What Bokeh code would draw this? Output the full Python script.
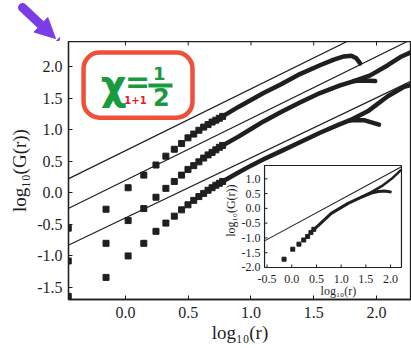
import math
from bokeh.plotting import figure
from bokeh.layouts import column
from bokeh.models import Range1d, FixedTicker, NumeralTickFormatter, Arrow, NormalHead
from bokeh.core.properties import value
from bokeh.embed import file_html
from bokeh.resources import INLINE

# ---------------- data ----------------
X_TICKS = [0.0, 0.5, 1.0, 1.5, 2.0]
Y_TICKS = [-1.5, -1.0, -0.5, 0.0, 0.5, 1.0, 1.5, 2.0]

# sparse (separate squares) part, common log10(r) positions
X_SPARSE = [-0.456, -0.155, 0.021, 0.146, 0.243, 0.322, 0.389, 0.447, 0.498,
            0.544, 0.585, 0.623, 0.658, 0.690, 0.720, 0.748, 0.774]
A_SPARSE = [-0.56, -0.26, 0.08, 0.28, 0.44, 0.58, 0.69, 0.78, 0.87,
            0.93, 0.99, 1.04, 1.08, 1.12, 1.15, 1.18, 1.21]
B_SPARSE = [-1.08, -0.80, -0.44, -0.25, -0.07, 0.07, 0.18, 0.28, 0.37,
            0.43, 0.49, 0.55, 0.60, 0.64, 0.68, 0.72, 0.75]
C_SPARSE = [-1.64, -1.34, -1.00, -0.80, -0.61, -0.48, -0.37, -0.27, -0.19,
            -0.12, -0.06, -0.01, 0.04, 0.08, 0.12, 0.15, 0.18]

# dense (merged squares) part
A_DENSE_X = [0.774, 0.90, 1.00, 1.10, 1.24, 1.39, 1.55, 1.66, 1.74, 1.80, 1.84, 1.87]
A_DENSE_Y = [1.21, 1.36, 1.47, 1.58, 1.72, 1.88, 2.02, 2.11, 2.16, 2.17, 2.13, 2.05]
B_DENSE_X = [0.774, 0.90, 1.00, 1.10, 1.24, 1.39, 1.55, 1.71, 1.82]
B_DENSE_Y = [0.75, 0.89, 1.01, 1.13, 1.28, 1.43, 1.58, 1.70, 1.77]
B_LOW_X = [1.82, 1.90, 1.99]
B_LOW_Y = [1.77, 1.78, 1.77]
B_UP_X = [1.82, 1.95, 2.09, 2.19, 2.30]
B_UP_Y = [1.77, 1.86, 2.02, 2.15, 2.25]
C_DENSE_X = [0.774, 0.90, 1.00, 1.10, 1.24, 1.39, 1.55, 1.70, 1.79]
C_DENSE_Y = [0.18, 0.32, 0.43, 0.53, 0.66, 0.80, 0.95, 1.08, 1.15]
C_LOW_X = [1.79, 1.90, 2.02]
C_LOW_Y = [1.15, 1.15, 1.08]
C_UP_X = [1.79, 1.93, 2.09, 2.22, 2.30]
C_UP_Y = [1.15, 1.29, 1.53, 1.68, 1.72]

# reference straight lines (slope ~1)
LINE_X = [-0.456, 2.30]
LINE_A_Y = [0.22, 2.92]
LINE_B_Y = [-0.25, 2.45]
LINE_C_Y = [-0.83, 1.79]

# inset
INSET_X_TICKS = [-0.5, 0.0, 0.5, 1.0, 1.5, 2.0]
INSET_Y_TICKS = [-2.0, -1.5, -1.0, -0.5, 0.0, 0.5, 1.0]
INSET_X_LABELS = ["-0.5", "0.0", "0.5", "1.0", "1.5", "2.0"]
INSET_Y_LABELS = ["-2.0", "-1.5", "-1.0", "-0.5", "0.0", "0.5", "1.0"]
IN_SPARSE_X = [-0.155, 0.021, 0.146, 0.243, 0.322, 0.389, 0.447]
IN_SPARSE_Y = [-1.72, -1.38, -1.21, -1.07, -0.95, -0.82, -0.71]
IN_DENSE_X = [0.447, 0.53, 0.80, 1.14, 1.41, 1.61, 1.75, 1.88, 2.02]
IN_DENSE_Y = [-0.71, -0.59, -0.17, 0.17, 0.38, 0.52, 0.57, 0.59, 0.55]
IN_UP_X = [1.41, 1.61, 1.82, 2.02, 2.22]
IN_UP_Y = [0.38, 0.55, 0.75, 1.00, 1.31]
IN_LINE_X = [-0.55, 2.22]
IN_LINE_Y = [-1.10, 1.41]

# ---------------- styling / layout ----------------
INK = "#1f1f1f"
SERIF = "Liberation Serif"
X0, X1 = -0.454, 2.279
Y0, Y1 = -1.69, 2.396
IX0, IX1 = -0.55, 2.22          # inset axis limits
IY0, IY1 = -2.0, 1.45
# inset box expressed in main-axis coordinates
BOX_L, BOX_R, BOX_B, BOX_T = 1.108, 2.199, -1.183, 0.432

RED = "#f0503a"
GREEN = "#1a9a3e"
PURPLE = "#7a3ce6"

# strip above the plot that carries the hand-drawn purple arrow
strip = figure(width=411, height=41, x_range=Range1d(0, 411), y_range=Range1d(0, 41),
               output_backend="svg", toolbar_location=None, min_border=0)
strip.frame_align = False
strip.axis.visible = False
strip.grid.visible = False
strip.outline_line_color = None
strip.background_fill_color = "white"
strip.border_fill_color = "white"
strip.add_layout(Arrow(end=NormalHead(size=20, fill_color=PURPLE, line_color=PURPLE),
                       x_start=22, y_start=34, x_end=55, y_end=3,
                       line_color=PURPLE, line_width=9, line_cap="round"))

p = figure(width=411, height=307, x_range=Range1d(X0, X1), y_range=Range1d(Y0, Y1),
           output_backend="svg", toolbar_location=None,
           min_border_left=68, min_border_right=0, min_border_top=0, min_border_bottom=49,
           x_axis_label="log₁₀(r)", y_axis_label="log₁₀(G(r))")
p.frame_align = False
p.grid.visible = False
p.background_fill_color = "white"
p.border_fill_color = "white"
p.outline_line_color = INK
p.outline_line_width = 1.3

for ax in (p.xaxis[0], p.yaxis[0]):
    ax.major_tick_in = 4
    ax.major_tick_out = 0
    ax.minor_tick_line_color = None
    ax.axis_line_color = INK
    ax.axis_line_width = 1.3
    ax.major_tick_line_color = INK
    ax.major_label_text_font = SERIF
    ax.major_label_text_font_size = "16px"
    ax.major_label_text_color = INK
    ax.axis_label_text_font = SERIF
    ax.axis_label_text_font_size = "19px"
    ax.axis_label_text_font_style = "normal"
    ax.axis_label_text_color = INK
    ax.formatter = NumeralTickFormatter(format="0.0")
p.xaxis[0].ticker = FixedTicker(ticks=X_TICKS)
p.yaxis[0].ticker = FixedTicker(ticks=Y_TICKS)
p.xaxis[0].major_label_standoff = 7
p.xaxis[0].axis_label_standoff = 1
p.yaxis[0].major_label_standoff = 6
p.yaxis[0].axis_label_standoff = 4

# ticks on the top frame edge
p.ray(x=X_TICKS, y=[Y1] * len(X_TICKS), length=4, angle=-math.pi / 2,
      length_units="screen", line_color=INK, line_width=1)

# reference lines
for ly in (LINE_A_Y, LINE_B_Y, LINE_C_Y):
    p.line(LINE_X, ly, line_color=INK, line_width=1.2)

# data
for ys in (A_SPARSE, B_SPARSE, C_SPARSE):
    p.scatter(X_SPARSE, ys, marker="square", size=6, fill_color=INK, line_color=INK)
for xs, ys in ((A_DENSE_X, A_DENSE_Y), (B_DENSE_X, B_DENSE_Y), (B_LOW_X, B_LOW_Y),
               (B_UP_X, B_UP_Y), (C_DENSE_X, C_DENSE_Y), (C_LOW_X, C_LOW_Y), (C_UP_X, C_UP_Y)):
    p.line(xs, ys, line_color=INK, line_width=4.5, line_join="round", line_cap="round")

# ---------------- inset ----------------
kx = (IX1 - IX0) / (BOX_R - BOX_L)
ky = (IY1 - IY0) / (BOX_T - BOX_B)
p.extra_x_ranges = {"ix": Range1d(IX0 - (BOX_L - X0) * kx, IX1 + (X1 - BOX_R) * kx)}
p.extra_y_ranges = {"iy": Range1d(IY0 - (BOX_B - Y0) * ky, IY1 + (Y1 - BOX_T) * ky)}
R = dict(x_range_name="ix", y_range_name="iy")

p.quad(left=[IX0], right=[IX1], bottom=[IY0], top=[IY1], fill_color="white",
       line_color=INK, line_width=1.2, **R)
p.line(IN_LINE_X, IN_LINE_Y, line_color=INK, line_width=1.1, **R)
p.scatter(IN_SPARSE_X, IN_SPARSE_Y, marker="square", size=4, fill_color=INK, line_color=INK, **R)
p.line(IN_DENSE_X, IN_DENSE_Y, line_color=INK, line_width=3, line_join="round", **R)
p.line(IN_UP_X, IN_UP_Y, line_color=INK, line_width=2.5, line_join="round", **R)

p.ray(x=INSET_X_TICKS, y=[IY0] * len(INSET_X_TICKS), length=3, angle=math.pi / 2,
      length_units="screen", line_color=INK, line_width=1, **R)
p.ray(x=[IX0] * len(INSET_Y_TICKS), y=INSET_Y_TICKS, length=3, angle=0,
      length_units="screen", line_color=INK, line_width=1, **R)
p.text(x=INSET_X_TICKS, y=[IY0] * len(INSET_X_TICKS), text=INSET_X_LABELS,
       y_offset=12, text_align="center", text_baseline="middle",
       text_font=value(SERIF), text_font_size="12px", text_color=INK, **R)
p.text(x=[IX0] * len(INSET_Y_TICKS), y=INSET_Y_TICKS, text=INSET_Y_LABELS,
       x_offset=-4, text_align="right", text_baseline="middle",
       text_font=value(SERIF), text_font_size="12px", text_color=INK, **R)
p.text(x=[(IX0 + IX1) / 2 + 0.11], y=[IY0], text=["log₁₀(r)"], y_offset=24,
       text_align="center", text_baseline="middle",
       text_font=value(SERIF), text_font_size="12px", text_color=INK, **R)
p.text(x=[IX0], y=[(IY0 + IY1) / 2 + 0.2], text=["log₁₀(G(r))"], x_offset=-34,
       angle=math.pi / 2, text_align="center", text_baseline="middle",
       text_font=value(SERIF), text_font_size="12px", text_color=INK, **R)

# ---------------- hand-drawn annotation ----------------
p.quad(left=[-0.334], right=[0.534], bottom=[1.19], top=[2.22], fill_color="white",
       line_color=RED, line_width=4.5, border_radius=16)
p.text(x=[-0.095], y=[1.71], text=["χ"], text_align="center", text_baseline="middle",
       text_font=value("DejaVu Sans"), text_font_style="bold", text_font_size="40px",
       text_color=GREEN)
p.text(x=[0.096], y=[1.76], text=["="], text_align="center", text_baseline="middle",
       text_font=value("DejaVu Sans"), text_font_style="bold", text_font_size="30px",
       text_color=GREEN)
p.text(x=[0.27, 0.285], y=[1.89, 1.51], text=["1", "2"], text_align="center",
       text_baseline="middle", text_font=value("DejaVu Sans"), text_font_style="bold",
       text_font_size=["18px", "24px"], text_color=GREEN)
p.segment(x0=[0.183], y0=[1.70], x1=[0.375], y1=[1.70], line_color=GREEN, line_width=4)
p.text(x=[0.08], y=[1.47], text=["1+1"], text_align="center", text_baseline="middle",
       text_font=value("DejaVu Sans"), text_font_style="bold", text_font_size="10px",
       text_color="#e0202a")

layout = column(strip, p, spacing=0)
open("out.html", "w").write(file_html(layout, INLINE))
